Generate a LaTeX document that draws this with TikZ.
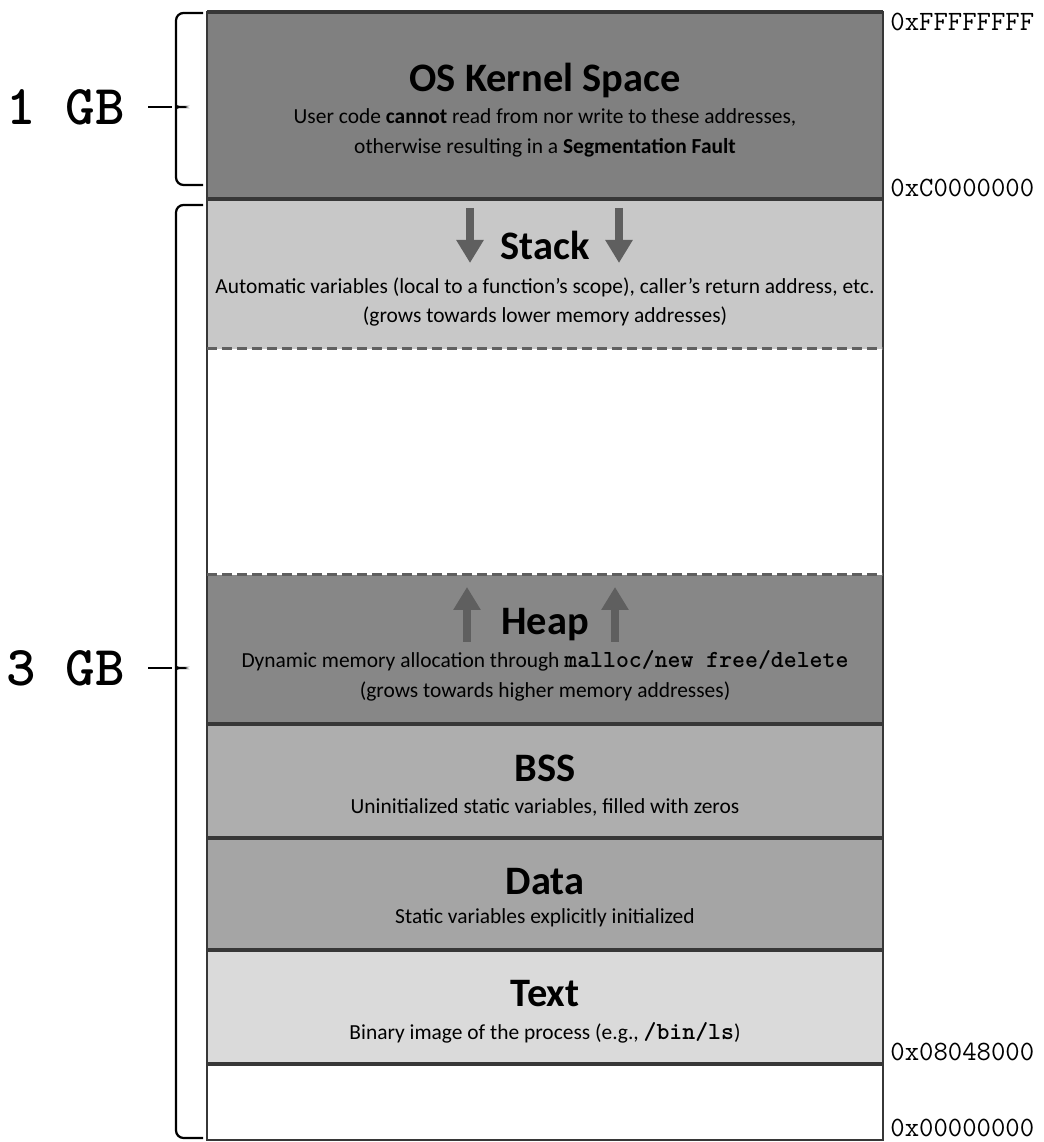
\documentclass[tikz,border=0pt]{standalone}
\usepackage{fontspec}
\setsansfont{Carlito}
\usetikzlibrary{arrows.meta, positioning, calc}

\begin{document}
\begin{tikzpicture}
  % Define colors
  \definecolor{kernelgray}{RGB}{128,128,128}
  \definecolor{stackgray}{RGB}{200,200,200}
  \definecolor{heapgray}{RGB}{135,135,135}
  \definecolor{bssgray}{RGB}{174,174,174}
  \definecolor{datagray}{RGB}{165,165,165}
  \definecolor{textgray}{RGB}{218,218,218}
  \definecolor{arrowgray}{RGB}{95,95,95}
  \definecolor{edgegray}{RGB}{55,55,55}

  \tikzset{
    segtitle/.style={font=\sffamily\bfseries\fontsize{23}{27}\selectfont, anchor=base},
    segbody/.style={font=\sffamily\fontsize{12.2}{17}\selectfont, align=center},
    addr/.style={font=\ttfamily\fontsize{15.9}{18}\selectfont, anchor=west, inner sep=0pt},
    gblabel/.style={font=\ttfamily\bfseries\fontsize{32}{36}\selectfont, anchor=east, inner xsep=0.46cm},
    growarrow/.style={arrowgray, line width=0.16cm, -{Triangle[width=0.52cm, length=0.46cm]}},
    divider/.style={edgegray, line width=0.07cm},
    freeline/.style={arrowgray, line width=0.06cm, dash pattern=on 0.2cm off 0.1cm},
    bracepath/.style={black, line width=0.045cm, rounded corners=0.15cm}
  }

  \useasboundingbox (0,0) rectangle (20.88,22.84);

  % Segments
  \fill[kernelgray] (4.14,18.86) rectangle (17.66,22.60);
  \fill[stackgray] (4.14,15.86) rectangle (17.66,18.86);
  \fill[heapgray] (4.14,8.36) rectangle (17.66,11.34);
  \fill[bssgray] (4.14,6.08) rectangle (17.66,8.36);
  \fill[datagray] (4.14,3.84) rectangle (17.66,6.08);
  \fill[textgray] (4.14,1.56) rectangle (17.66,3.84);

  % Outline and dividers
  \draw[edgegray, line width=0.04cm] (4.14,0.04) rectangle (17.66,22.60);
  \foreach \y in {22.60, 18.86, 8.36, 6.08, 3.84, 1.56} {
    \draw[divider] (4.14,\y) -- (17.66,\y);
  }
  \foreach \y in {15.86, 11.34} {
    \draw[freeline] (4.14,\y) -- (17.66,\y);
  }

  % OS Kernel Space
  \node[segtitle] (kerneltitle) at (10.9, 21.00) {OS Kernel Space};
  \node[segbody] (kernelbody) at (10.9, 20.19) {User code \textbf{cannot} read from nor write to these addresses,\\otherwise resulting in a \textbf{Segmentation Fault}};

  % Stack
  \node[segtitle] (stacktitle) at (10.9, 17.64) {Stack};
  \node[segbody] (stackbody) at (10.9, 16.80) {Automatic variables (local to a function’s scope), caller’s return address, etc.\\(grows towards lower memory addresses)};
  \coordinate (stackLtop) at (9.40, 18.68);
  \coordinate (stackLtip) at (9.40, 17.58);
  \coordinate (stackRtop) at (12.38, 18.68);
  \coordinate (stackRtip) at (12.38, 17.58);
  \draw[growarrow] (stackLtop) -- (stackLtip);
  \draw[growarrow] (stackRtop) -- (stackRtip);

  % Heap
  \node[segtitle] (heaptitle) at (10.9, 10.14) {Heap};
  \node[segbody] (heapbody) at (10.9, 9.32) {Dynamic memory allocation through {\ttfamily\bfseries\fontsize{14}{17}\selectfont malloc/new free/delete}\\(grows towards higher memory addresses)};
  \coordinate (heapLbot) at (9.34, 10.00);
  \coordinate (heapLtip) at (9.34, 11.10);
  \coordinate (heapRbot) at (12.30, 10.00);
  \coordinate (heapRtip) at (12.30, 11.10);
  \draw[growarrow] (heapLbot) -- (heapLtip);
  \draw[growarrow] (heapRbot) -- (heapRtip);

  % BSS, Data, Text
  \node[segtitle] (bsstitle) at (10.9, 7.20) {BSS};
  \node[segbody] (bssbody) at (10.9, 6.70) {Uninitialized static variables, filled with zeros};
  \node[segtitle] (datatitle) at (10.9, 4.94) {Data};
  \node[segbody] (databody) at (10.9, 4.48) {Static variables explicitly initialized};
  \node[segtitle] (texttitle) at (10.9, 2.70) {Text};
  \node[segbody] (textbody) at (10.9, 2.18) {Binary image of the process (e.g., {\ttfamily\bfseries\fontsize{14}{17}\selectfont /bin/ls})};

  % Addresses
  \node[addr] (addrtop) at (17.80, 22.40) {0xFFFFFFFF};
  \node[addr] (addrkernel) at (17.80, 19.08) {0xC0000000};
  \node[addr] (addrtext) at (17.80, 1.80) {0x08048000};
  \node[addr] (addrzero) at (17.80, 0.28) {0x00000000};

  % 1 GB brace
  \draw[bracepath] (4.06,22.58) -- (3.52,22.58) -- (3.52,20.84)
    to[out=-90, in=0] (3.44,20.70) coordinate (tipone)
    to[out=0, in=90] (3.52,20.56) -- (3.52,19.14) -- (4.06,19.14);
  \node[gblabel] (gbone) at (2.96, 20.70) {1 GB};
  \draw[bracepath] (gbone) -- (tipone);

  % 3 GB brace
  \draw[bracepath] (4.06,18.74) -- (3.52,18.74) -- (3.52,9.62)
    to[out=-90, in=0] (3.44,9.48) coordinate (tipthree)
    to[out=0, in=90] (3.52,9.34) -- (3.52,0.08) -- (4.06,0.08);
  \node[gblabel] (gbthree) at (2.96, 9.48) {3 GB};
  \draw[bracepath] (gbthree) -- (tipthree);
\end{tikzpicture}
\end{document}
